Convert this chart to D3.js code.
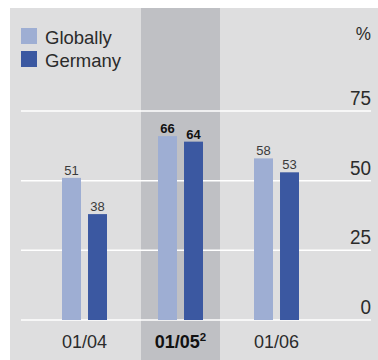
<!DOCTYPE html>
<html>
<head>
<meta charset="utf-8">
<script src="https://cdn.jsdelivr.net/npm/d3@7"></script>
<style>
  html, body { margin: 0; padding: 0; background: #ffffff; }
  svg { display: block; font-family: "Liberation Sans", Arial, sans-serif; }
</style>
</head>
<body>
<svg id="chart" width="378" height="360"></svg>
<script>
// Survey share by period, in percent
const periods = ["01/04", "01/05", "01/06"];
const series = ["Globally", "Germany"];
const globallyValues = [51, 66, 58];
const germanyValues = [38, 64, 53];
const yTicks = [0, 25, 50, 75];
const highlightPeriod = "01/05";
const seriesColors = ["#9eaed3", "#3b58a1"];

const svg = d3.select("#chart");

// Panel background
svg.append("rect")
  .attr("x", 10).attr("y", 8)
  .attr("width", 368).attr("height", 352)
  .attr("fill", "#dededf");

const x = d3.scaleBand().domain(periods).range([36.5, 324.5]).paddingInner(0).paddingOuter(0);
const xSub = d3.scaleBand().domain(series).range([0, 45]).paddingInner(0.27);
const y = d3.scaleLinear().domain([0, 75]).range([320, 111]);

// Highlighted period column
svg.append("rect")
  .attr("x", x(highlightPeriod) + x.bandwidth() / 2 - 39.5)
  .attr("y", 8)
  .attr("width", 79)
  .attr("height", 352)
  .attr("fill", "#bfc0c4");

// Horizontal gridlines
svg.append("g").selectAll("line")
  .data(yTicks)
  .join("line")
  .attr("x1", 21).attr("x2", 371)
  .attr("y1", d => y(d)).attr("y2", d => y(d))
  .attr("stroke", "#ffffff")
  .attr("stroke-width", 1.5);

// Y tick labels on the right, sitting above each gridline (tall, narrow digits)
svg.append("g").selectAll("text")
  .data(yTicks)
  .join("text")
  .attr("transform", d => `translate(371,${y(d) - 6}) scale(0.9,1)`)
  .attr("text-anchor", "end")
  .attr("font-size", 21)
  .attr("fill", "#2b2b2b")
  .text(d => d);

svg.append("text")
  .attr("transform", "translate(371,40) scale(0.9,1)")
  .attr("text-anchor", "end")
  .attr("font-size", 19)
  .attr("fill", "#2b2b2b")
  .text("%");

// Bars
const rows = periods.map((p, i) => ({ period: p, values: [globallyValues[i], germanyValues[i]] }));
const groups = svg.append("g").selectAll("g")
  .data(rows)
  .join("g")
  .attr("transform", d => `translate(${x(d.period) + x.bandwidth() / 2 - 22.5},0)`);

groups.selectAll("rect")
  .data(d => d.values.map((v, j) => ({ s: series[j], v, j })))
  .join("rect")
  .attr("x", d => xSub(d.s))
  .attr("width", xSub.bandwidth())
  .attr("y", d => y(d.v))
  .attr("height", d => y(0) - y(d.v))
  .attr("fill", d => seriesColors[d.j]);

// Value labels
groups.selectAll("text")
  .data(d => d.values.map((v, j) => ({ s: series[j], v, p: d.period })))
  .join("text")
  .attr("x", d => xSub(d.s) + xSub.bandwidth() / 2)
  .attr("y", d => y(d.v) - 3)
  .attr("text-anchor", "middle")
  .attr("font-size", 13)
  .attr("font-weight", d => d.p === highlightPeriod ? "bold" : "normal")
  .attr("fill", d => d.p === highlightPeriod ? "#111111" : "#3a3a3a")
  .text(d => d.v);

// Period labels along the bottom
const xl = svg.append("g").selectAll("text")
  .data(periods)
  .join("text")
  .attr("x", d => x(d) + x.bandwidth() / 2)
  .attr("y", 348)
  .attr("text-anchor", "middle")
  .attr("font-size", 18)
  .attr("font-weight", d => d === highlightPeriod ? "bold" : "normal")
  .attr("fill", d => d === highlightPeriod ? "#111111" : "#2b2b2b");
xl.append("tspan").text(d => d);
xl.filter(d => d === highlightPeriod)
  .append("tspan")
  .attr("dy", -7)
  .attr("font-size", 11.5)
  .text("2");

// Legend
const legend = svg.append("g").selectAll("g")
  .data(series)
  .join("g")
  .attr("transform", (d, i) => `translate(21,${28 + i * 23})`);
legend.append("rect")
  .attr("width", 16).attr("height", 16)
  .attr("fill", (d, i) => seriesColors[i]);
legend.append("text")
  .attr("x", 24).attr("y", 16)
  .attr("font-size", 18.5)
  .attr("fill", "#2b2b2b")
  .text(d => d);
</script>
</body>
</html>
